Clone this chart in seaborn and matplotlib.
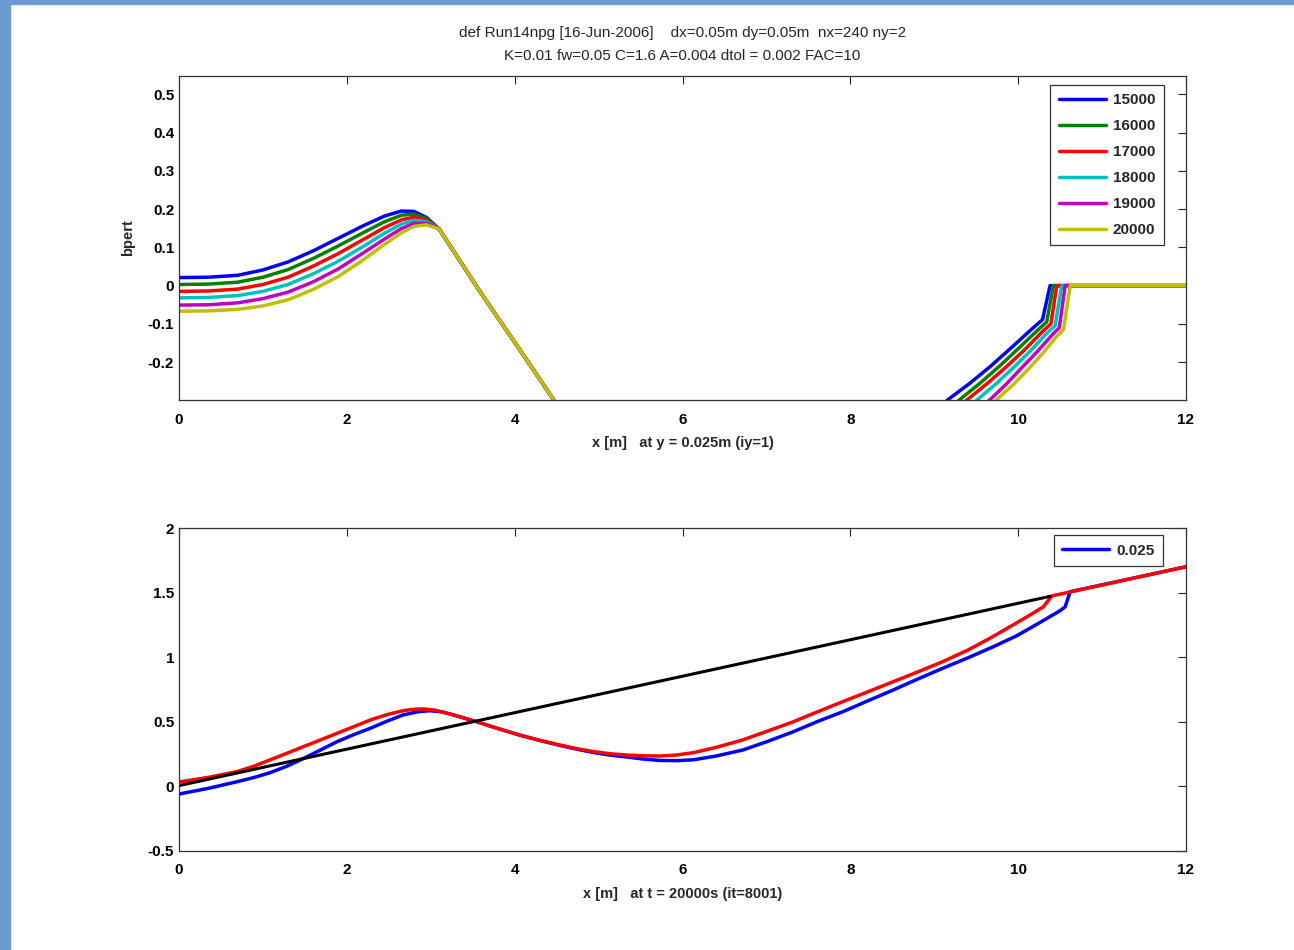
import numpy as np
import pandas as pd
import matplotlib
matplotlib.use("Agg")
import matplotlib.pyplot as plt
from matplotlib.patches import Rectangle
import seaborn as sns

sns.set_style("white")
plt.rcParams['font.family'] = ['Liberation Sans', 'DejaVu Sans']

# ---------------- data: top panel (bpert at y = 0.025 m) ----------------
times = ["15000", "16000", "17000", "18000", "19000", "20000"]
colors = ["#0000ff", "#008000", "#ff0000", "#00bfbf", "#bf00bf", "#bfbf00"]

left_x = [0, 0.35, 0.7, 1.0, 1.3, 1.6, 1.9, 2.2, 2.45, 2.65, 2.8, 2.95, 3.1, 3.6, 4.1, 4.5]
left_y = {
    "15000": [0.021, 0.022, 0.027, 0.041, 0.062, 0.091, 0.124, 0.157, 0.182, 0.195, 0.194, 0.178, 0.148, -0.020, -0.180, -0.310],
    "16000": [0.003, 0.004, 0.009, 0.022, 0.042, 0.071, 0.104, 0.139, 0.167, 0.184, 0.187, 0.175, 0.148, -0.020, -0.180, -0.310],
    "17000": [-0.015, -0.014, -0.009, 0.003, 0.022, 0.051, 0.084, 0.121, 0.152, 0.172, 0.179, 0.171, 0.148, -0.020, -0.180, -0.310],
    "18000": [-0.032, -0.031, -0.026, -0.015, 0.003, 0.031, 0.064, 0.103, 0.137, 0.161, 0.171, 0.167, 0.148, -0.020, -0.180, -0.310],
    "19000": [-0.051, -0.050, -0.045, -0.034, -0.017, 0.010, 0.044, 0.086, 0.122, 0.149, 0.163, 0.163, 0.148, -0.020, -0.180, -0.310],
    "20000": [-0.067, -0.066, -0.062, -0.053, -0.037, -0.010, 0.024, 0.068, 0.108, 0.138, 0.155, 0.159, 0.148, -0.020, -0.180, -0.310],
}
right_x = {
    "15000": [9.00, 9.17, 9.42, 9.67, 9.92, 10.18, 10.29, 10.38, 12.0],
    "16000": [9.10, 9.31, 9.54, 9.77, 10.00, 10.24, 10.34, 10.42, 12.0],
    "17000": [9.20, 9.40, 9.63, 9.86, 10.08, 10.29, 10.39, 10.46, 12.0],
    "18000": [9.30, 9.52, 9.74, 9.95, 10.15, 10.34, 10.44, 10.52, 12.0],
    "19000": [9.45, 9.67, 9.86, 10.05, 10.23, 10.40, 10.49, 10.56, 12.0],
    "20000": [9.55, 9.75, 9.95, 10.14, 10.30, 10.45, 10.54, 10.62, 12.0],
}
right_y = {
    "15000": [-0.330, -0.297, -0.256, -0.211, -0.162, -0.110, -0.089, 0.0, 0.0],
    "16000": [-0.335, -0.297, -0.256, -0.212, -0.165, -0.115, -0.095, 0.0, 0.0],
    "17000": [-0.335, -0.297, -0.256, -0.212, -0.167, -0.120, -0.100, 0.0, 0.0],
    "18000": [-0.340, -0.297, -0.256, -0.213, -0.170, -0.125, -0.105, 0.0, 0.0],
    "19000": [-0.340, -0.297, -0.257, -0.213, -0.172, -0.130, -0.110, 0.0, 0.0],
    "20000": [-0.340, -0.297, -0.257, -0.214, -0.175, -0.135, -0.115, 0.0, 0.0],
}

# ---------------- data: bottom panel (profiles at t = 20000 s) ----------------
blue_x = [0, 0.35, 0.69, 0.9, 1.08, 1.28, 1.48, 1.68, 1.88, 2.08, 2.28, 2.48, 2.67, 2.85,
          2.99, 3.15, 3.27, 3.55, 3.8, 4.06, 4.3, 4.54, 4.74, 4.94, 5.13, 5.33, 5.53, 5.73,
          5.93, 6.13, 6.4, 6.72, 7.0, 7.32, 7.6, 7.91, 8.2, 8.51, 8.8, 9.10, 9.4, 9.7, 9.98,
          10.25, 10.5, 10.56, 10.62, 12.0]
blue_y = [-0.059, -0.015, 0.036, 0.07, 0.105, 0.155, 0.215, 0.28, 0.345, 0.40, 0.45, 0.505,
          0.553, 0.578, 0.586, 0.575, 0.553, 0.50, 0.448, 0.397, 0.356, 0.317, 0.288, 0.262,
          0.243, 0.228, 0.212, 0.201, 0.199, 0.206, 0.235, 0.282, 0.345, 0.423, 0.50, 0.578,
          0.66, 0.746, 0.83, 0.914, 0.995, 1.08, 1.165, 1.265, 1.36, 1.39, 1.507, 1.70]
red_x = [0, 0.35, 0.69, 0.9, 1.08, 1.28, 1.48, 1.68, 1.88, 2.08, 2.28, 2.48, 2.67, 2.8,
         2.91, 3.05, 3.27, 3.55, 3.8, 4.06, 4.3, 4.54, 4.74, 4.94, 5.13, 5.33, 5.53, 5.73,
         5.93, 6.13, 6.4, 6.72, 7.0, 7.32, 7.6, 7.91, 8.2, 8.51, 8.8, 9.10, 9.4, 9.66, 9.98,
         10.15, 10.3, 10.36, 10.40, 12.0]
red_y = [0.034, 0.07, 0.114, 0.158, 0.204, 0.255, 0.307, 0.358, 0.41, 0.462, 0.514, 0.556,
         0.586, 0.597, 0.60, 0.59, 0.553, 0.50, 0.448, 0.397, 0.356, 0.32, 0.292, 0.269,
         0.253, 0.243, 0.237, 0.235, 0.243, 0.261, 0.302, 0.36, 0.425, 0.50, 0.575, 0.656,
         0.73, 0.81, 0.885, 0.965, 1.055, 1.145, 1.265, 1.33, 1.39, 1.44, 1.474, 1.70]
black_x = [0, 10.38]
black_y = [0.006, 1.471]

title1 = "def Run14npg [16-Jun-2006]    dx=0.05m dy=0.05m  nx=240 ny=2"
title2 = "K=0.01 fw=0.05 C=1.6 A=0.004 dtol = 0.002 FAC=10"
xlabel_top = "x [m]   at y = 0.025m (iy=1)"
xlabel_bot = "x [m]   at t = 20000s (it=8001)"
ylabel_top = "bpert"
legend_bot = "0.025"

# ---------------- build long-form table ----------------
rows = []
for t in times:
    for xv, yv in zip(left_x, left_y[t]):
        rows.append((t, t + "L", xv, yv))
    for xv, yv in zip(right_x[t], right_y[t]):
        rows.append((t, t + "R", xv, yv))
df = pd.DataFrame(rows, columns=["time", "seg", "x", "bpert"])

W, H = 1294, 950
fig = plt.figure(figsize=(W / 100, H / 100), dpi=100)
fig.patches.append(Rectangle((0, 0), 10 / W, 1, transform=fig.transFigure,
                             color="#6b9bd1", zorder=0))
fig.patches.append(Rectangle((0, 1 - 3.5 / H), 1, 3.5 / H, transform=fig.transFigure,
                             color="#6b9bd1", zorder=0))

ax1 = fig.add_axes([179 / W, 1 - 400 / H, (1186 - 179) / W, (400 - 76) / H])
ax2 = fig.add_axes([179 / W, 1 - 851 / H, (1186 - 179) / W, (851 - 528) / H])

sns.lineplot(data=df, x="x", y="bpert", hue="time", units="seg", estimator=None,
             sort=False, palette=dict(zip(times, colors)), hue_order=times,
             lw=2.5, ax=ax1)

sns.lineplot(x=blue_x, y=blue_y, color="#0000ff", lw=2.5, sort=False,
             estimator=None, ax=ax2, label=legend_bot)
sns.lineplot(x=red_x, y=red_y, color="#ff0000", lw=2.5, sort=False,
             estimator=None, ax=ax2, legend=False)
sns.lineplot(x=black_x, y=black_y, color="#000000", lw=2.2, sort=False,
             estimator=None, ax=ax2, legend=False)

for ax in (ax1, ax2):
    ax.set_xlim(0, 12)
    ax.set_xticks(np.arange(0, 13, 2))
    ax.tick_params(direction="in", length=6, width=0.8, top=True, right=True,
                   labelsize=11, colors="#222222", labelcolor="black")
    ax.tick_params(axis="x", pad=9)
    ax.tick_params(axis="y", pad=3.5)
    for sp in ax.spines.values():
        sp.set_color("#333333")
        sp.set_linewidth(0.9)

ax1.set_ylim(-0.299, 0.548)
ax1.set_yticks([-0.2, -0.1, 0, 0.1, 0.2, 0.3, 0.4, 0.5])
ax1.set_yticklabels(["-0.2", "-0.1", "0", "0.1", "0.2", "0.3", "0.4", "0.5"], fontweight="bold")
ax1.set_xticklabels([str(v) for v in range(0, 13, 2)], fontweight="bold")
ax2.set_ylim(-0.5, 2)
ax2.set_yticks([-0.5, 0, 0.5, 1, 1.5, 2])
ax2.set_yticklabels(["-0.5", "0", "0.5", "1", "1.5", "2"], fontweight="bold")
ax2.set_xticklabels([str(v) for v in range(0, 13, 2)], fontweight="bold")

ax1.set_xlabel(xlabel_top, fontsize=10.5, fontweight="bold", labelpad=6.5)
ax2.set_xlabel(xlabel_bot, fontsize=10.5, fontweight="bold", labelpad=6.5)
ax1.set_ylabel(ylabel_top, fontsize=10.5, fontweight="bold", labelpad=9)
ax2.set_ylabel("")

leg1 = ax1.legend(loc="upper right", bbox_to_anchor=(0.978, 0.972), borderaxespad=0,
                  fancybox=False, framealpha=1, edgecolor="#333333", handlelength=3.1,
                  handletextpad=0.45, labelspacing=0.78, borderpad=0.55,
                  prop=dict(size=11, weight="bold"), title=None)
leg1.get_frame().set_linewidth(0.9)
leg2 = ax2.legend(loc="upper right", bbox_to_anchor=(0.977, 0.978), borderaxespad=0,
                  fancybox=False, framealpha=1, edgecolor="#333333", handlelength=3.1,
                  handletextpad=0.45, borderpad=0.55, prop=dict(size=11, weight="bold"))
leg2.get_frame().set_linewidth(0.9)

fig.text(682.5 / W, 1 - 33 / H, title1, ha="center", va="center", fontsize=11)
fig.text(682.5 / W, 1 - 56 / H, title2, ha="center", va="center", fontsize=11)

fig.savefig("out.png", dpi=100, facecolor="white")
